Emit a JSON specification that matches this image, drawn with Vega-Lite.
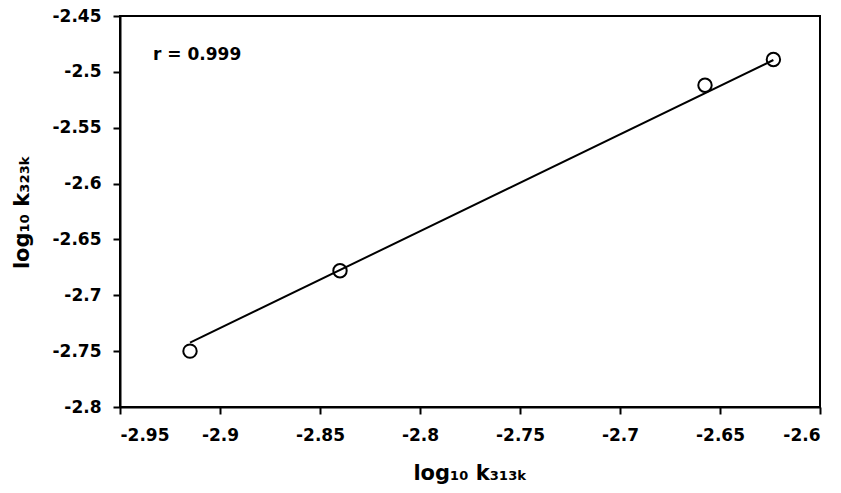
{
  "$schema": "https://vega.github.io/schema/vega-lite/v6.json",
  "width": 700,
  "height": 391,
  "autosize": {"type": "none"},
  "padding": {"left": 120, "top": 16, "right": 21, "bottom": 86},
  "background": "white",
  "config": {
    "view": {"stroke": "black", "strokeWidth": 2},
    "font": "DejaVu Sans",
    "axis": {
      "grid": false,
      "domainColor": "black",
      "domainWidth": 2,
      "tickColor": "black",
      "tickWidth": 2,
      "tickSize": 7,
      "labelColor": "black",
      "labelFont": "DejaVu Sans",
      "labelFontSize": 17,
      "labelFontWeight": "bold",
      "labelExpr": "toString(datum.value)",
      "titleColor": "black",
      "titleFont": "DejaVu Sans",
      "titleFontSize": 21,
      "titleFontWeight": "bold"
    }
  },
  "datasets": {
    "pts": [
      {"x": -2.915, "y": -2.750},
      {"x": -2.840, "y": -2.678},
      {"x": -2.6575, "y": -2.512},
      {"x": -2.6233, "y": -2.489}
    ],
    "fit": [
      {"x": -2.915, "y": -2.7424},
      {"x": -2.6233, "y": -2.4894}
    ],
    "lab": [
      {"x": -2.9335, "y": -2.4848, "t": "r = 0.999"}
    ]
  },
  "layer": [
    {
      "data": {"name": "fit"},
      "mark": {"type": "line", "color": "black", "strokeWidth": 2},
      "encoding": {
        "x": {"field": "x", "type": "quantitative", "scale": {"domain": [-2.95, -2.6], "nice": false, "zero": false},
          "axis": {"values": [-2.95, -2.9, -2.85, -2.8, -2.75, -2.7, -2.65, -2.6], "labelPadding": 13, "title": "log₁₀ k₃₁₃ₖ", "titlePadding": 19}},
        "y": {"field": "y", "type": "quantitative", "scale": {"domain": [-2.8, -2.45], "nice": false, "zero": false},
          "axis": {"values": [-2.8, -2.75, -2.7, -2.65, -2.6, -2.55, -2.5, -2.45], "labelPadding": 12, "title": "log₁₀ k₃₂₃ₖ", "titlePadding": 20}}
      }
    },
    {
      "data": {"name": "pts"},
      "mark": {"type": "point", "shape": "circle", "filled": false, "stroke": "black", "strokeWidth": 2, "size": 180, "opacity": 1},
      "encoding": {
        "x": {"field": "x", "type": "quantitative"},
        "y": {"field": "y", "type": "quantitative"}
      }
    },
    {
      "data": {"name": "lab"},
      "mark": {"type": "text", "align": "left", "baseline": "middle", "fontSize": 17, "fontWeight": "bold", "color": "black", "font": "DejaVu Sans"},
      "encoding": {
        "x": {"field": "x", "type": "quantitative"},
        "y": {"field": "y", "type": "quantitative"},
        "text": {"field": "t"}
      }
    }
  ]
}
